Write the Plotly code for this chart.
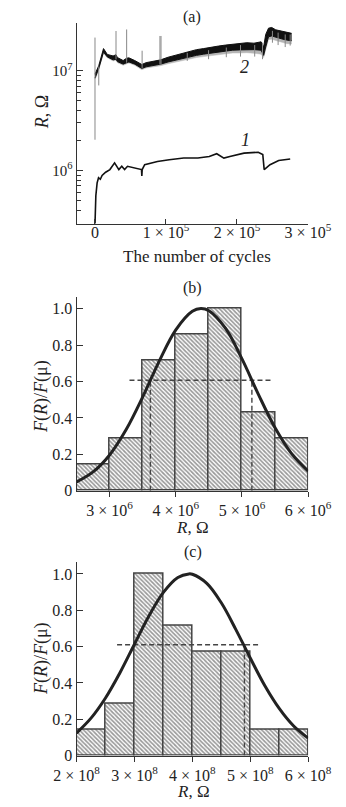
import plotly.graph_objects as go

# ---------------- data: panel (a) ----------------
# curve 2: band envelopes (cycles, Ohm)
c2_x = [0, 2e3, 5.3e3, 12e3, 17.4e3, 25.5e3, 29.6e3, 31.6e3, 39.7e3, 44.6e3, 47.8e3, 56e3, 66e3,
        72e3, 82e3, 92.5e3, 103e3, 113e3, 123e3, 133e3, 143e3, 153e3, 164e3, 174e3, 184e3, 194e3,
        204e3, 214e3, 224e3, 234e3, 237.6e3, 240.5e3, 244.5e3, 249e3, 254.6e3, 259e3, 264.8e3,
        270e3, 277e3]
c2_upper = [0.92e7, 1.0e7, 1.12e7, 1.66e7, 1.45e7, 1.40e7, 1.44e7, 1.35e7, 1.26e7, 1.33e7, 1.34e7,
            1.26e7, 1.15e7, 1.20e7, 1.24e7, 1.28e7, 1.36e7, 1.42e7, 1.50e7, 1.54e7, 1.62e7, 1.66e7,
            1.72e7, 1.76e7, 1.80e7, 1.84e7, 1.86e7, 1.90e7, 1.88e7, 1.94e7, 1.72e7, 2.3e7, 2.66e7,
            2.70e7, 2.56e7, 2.52e7, 2.45e7, 2.42e7, 2.36e7]
c2_lower = [0.84e7, 0.9e7, 1.05e7, 1.53e7, 1.37e7, 1.28e7, 1.30e7, 1.23e7, 1.16e7, 1.20e7, 1.22e7,
            1.16e7, 1.05e7, 1.09e7, 1.12e7, 1.16e7, 1.22e7, 1.27e7, 1.33e7, 1.37e7, 1.42e7, 1.46e7,
            1.50e7, 1.54e7, 1.57e7, 1.60e7, 1.61e7, 1.62e7, 1.62e7, 1.60e7, 1.42e7, 1.72e7, 2.18e7,
            2.22e7, 2.15e7, 2.12e7, 2.06e7, 2.02e7, 1.99e7]
c2_fringe = [0.82e7, 0.87e7, 1.02e7, 1.49e7, 1.34e7, 1.25e7, 1.27e7, 1.20e7, 1.13e7, 1.17e7, 1.19e7,
             1.13e7, 1.02e7, 1.06e7, 1.08e7, 1.12e7, 1.17e7, 1.21e7, 1.27e7, 1.30e7, 1.35e7, 1.38e7,
             1.41e7, 1.45e7, 1.47e7, 1.50e7, 1.50e7, 1.51e7, 1.49e7, 1.46e7, 1.35e7, 1.63e7, 2.05e7,
             2.06e7, 1.99e7, 1.96e7, 1.91e7, 1.86e7, 1.85e7]
# grey spikes of curve 2: position, low end, high end
spike_x = [0, 5.3e3, 29.6e3, 44.6e3, 66.4e3, 91.5e3, 93e3, 130e3, 160e3, 185e3, 205e3, 225e3,
           236e3, 250e3, 258e3, 268e3, 275e3]
spike_lo = [2.03e6, 7.1e6, 1.3e7, 1.2e7, 1.05e7, 1.15e7, 1.15e7, 1.25e7, 1.30e7, 1.36e7, 1.38e7,
            1.38e7, 1.30e7, 1.90e7, 1.80e7, 1.72e7, 1.78e7]
spike_hi = [2.14e7, 1.1e7, 2.49e7, 2.58e7, 1.58e7, 2.22e7, 2.22e7, 1.5e7, 1.6e7, 1.7e7, 1.8e7,
            1.8e7, 1.9e7, 2.5e7, 2.4e7, 2.3e7, 2.3e7]

# curve 1 (cycles, Ohm)
c1_x = [0, 500, 1.2e3, 3e3, 5e3, 7.5e3, 10e3, 15e3, 21e3, 27.6e3, 33.6e3, 37.7e3, 41.7e3, 45.8e3,
        56e3, 65.5e3, 66e3, 66.5e3, 70e3, 88e3, 104.6e3, 125e3, 145e3, 161e3, 171.5e3, 181.6e3,
        190e3, 210e3, 230e3, 236.4e3, 238.4e3, 246.6e3, 258.8e3, 275e3]
c1_y = [2.9e5, 4.5e5, 5.6e5, 7.5e5, 8.45e5, 8.15e5, 8.9e5, 9.6e5, 1.02e6, 1.19e6, 1.02e6, 1.1e6,
        1.02e6, 1.1e6, 1.06e6, 1.02e6, 8.8e5, 1.02e6, 1.14e6, 1.23e6, 1.28e6, 1.33e6, 1.33e6,
        1.38e6, 1.47e6, 1.33e6, 1.38e6, 1.49e6, 1.52e6, 1.44e6, 1.02e6, 1.14e6, 1.26e6, 1.3e6]

a_xticks = [0, 1e5, 2e5, 3e5]
a_xticktext = ["0", "1 × 10<sup>5</sup>", "2 × 10<sup>5</sup>", "3 × 10<sup>5</sup>"]
a_yticks = [1e6, 1e7]
a_yticktext = ["10<sup>6</sup>", "10<sup>7</sup>"]
a_yminor = [3e5, 4e5, 5e5, 6e5, 7e5, 8e5, 9e5, 2e6, 3e6, 4e6, 5e6, 6e6, 7e6, 8e6, 9e6]

# ---------------- data: panel (b) ----------------
b_edges = [2.5e6, 3.0e6, 3.5e6, 4.0e6, 4.5e6, 5.0e6, 5.5e6, 6.0e6]
b_heights = [0.143, 0.286, 0.714, 0.857, 1.0, 0.429, 0.286]
b_curve_x = [2.5e6, 2.75e6, 3.0e6, 3.25e6, 3.5e6, 3.75e6, 4.0e6, 4.25e6, 4.38e6, 4.5e6, 4.75e6,
             5.0e6, 5.25e6, 5.5e6, 5.75e6, 6.0e6]
b_curve_y = [0.049, 0.104, 0.197, 0.336, 0.515, 0.712, 0.883, 0.985, 1.0, 0.988, 0.892, 0.724,
             0.528, 0.346, 0.204, 0.108]
b_level = 0.6065
b_level_x = [3.3e6, 5.45e6]
b_sigma_x = [3.616e6, 5.15e6]
b_xticks = [3e6, 4e6, 5e6, 6e6]
b_xticktext = ["3 × 10<sup>6</sup>", "4 × 10<sup>6</sup>", "5 × 10<sup>6</sup>", "6 × 10<sup>6</sup>"]

# ---------------- data: panel (c) ----------------
c_edges = [2.0e8, 2.5e8, 3.0e8, 3.5e8, 4.0e8, 4.5e8, 5.0e8, 5.5e8, 6.0e8]
c_heights = [0.143, 0.286, 1.0, 0.714, 0.571, 0.571, 0.143, 0.143]
c_curve_x = [2.0e8, 2.25e8, 2.5e8, 2.75e8, 3.0e8, 3.25e8, 3.5e8, 3.75e8, 3.94e8, 4.0e8, 4.25e8,
             4.5e8, 4.75e8, 5.0e8, 5.25e8, 5.5e8, 5.75e8, 6.0e8]
c_curve_y = [0.124, 0.206, 0.317, 0.456, 0.613, 0.768, 0.898, 0.980, 1.0, 0.998, 0.948, 0.841,
             0.695, 0.537, 0.386, 0.260, 0.163, 0.096]
c_level = 0.61
c_level_x = [2.7e8, 5.17e8]
c_sigma_x = [4.9e8]
c_xticks = [2e8, 3e8, 4e8, 5e8, 6e8]
c_xticktext = ["2 × 10<sup>8</sup>", "3 × 10<sup>8</sup>", "4 × 10<sup>8</sup>",
               "5 × 10<sup>8</sup>", "6 × 10<sup>8</sup>"]

hist_yticks = [0, 0.2, 0.4, 0.6, 0.8, 1.0]
hist_yticktext = ["0", "0.2", "0.4", "0.6", "0.8", "1.0"]

# ---------------- figure ----------------
W, H = 346, 807
FONT = "Liberation Serif"
INK = "#222"


def fx(px):
    return px / W


def fy(py):
    return 1 - py / H


fig = go.Figure()

# panel (a)
fig.add_trace(go.Scatter(x=c2_x, y=c2_fringe, mode="lines", line=dict(color="#bbb", width=0.5),
                         xaxis="x", yaxis="y", hoverinfo="skip"))
fig.add_trace(go.Scatter(x=c2_x, y=c2_lower, mode="lines", line=dict(color="#bbb", width=0.5),
                         fill="tonexty", fillcolor="#b5b5b5", xaxis="x", yaxis="y", hoverinfo="skip"))
fig.add_trace(go.Scatter(x=c2_x, y=c2_lower, mode="lines", line=dict(color="#111", width=1),
                         xaxis="x", yaxis="y", hoverinfo="skip"))
fig.add_trace(go.Scatter(x=c2_x, y=c2_upper, mode="lines", line=dict(color="#111", width=1),
                         fill="tonexty", fillcolor="#111", xaxis="x", yaxis="y", hoverinfo="skip"))
sx, sy = [], []
for x0, lo, hi in zip(spike_x, spike_lo, spike_hi):
    sx += [x0, x0, None]
    sy += [lo, hi, None]
fig.add_trace(go.Scatter(x=sx, y=sy, mode="lines", line=dict(color="#888", width=1),
                         xaxis="x", yaxis="y", hoverinfo="skip"))
fig.add_trace(go.Scatter(x=c1_x, y=c1_y, mode="lines", line=dict(color="#111", width=1.6),
                         xaxis="x", yaxis="y", hoverinfo="skip"))


def add_hist(edges, heights, cx, cy, level, level_x, sigma_x, xa, ya):
    centers = [(a + b) / 2 for a, b in zip(edges[:-1], edges[1:])]
    widths = [b - a for a, b in zip(edges[:-1], edges[1:])]
    fig.add_trace(go.Bar(x=centers, y=heights, width=widths, xaxis=xa, yaxis=ya,
                         marker=dict(color="white",
                                     pattern=dict(shape="\\", fgcolor="#333", bgcolor="white",
                                                  size=3, solidity=0.55),
                                     line=dict(color="#444", width=1.5)),
                         hoverinfo="skip"))
    dx, dy = list(level_x), [level, level]
    for s in sigma_x:
        dx += [None, s, s]
        dy += [None, 0, level]
    fig.add_trace(go.Scatter(x=dx, y=dy, mode="lines", xaxis=xa, yaxis=ya,
                             line=dict(color="#444", width=1.4, dash="5px,3px"), hoverinfo="skip"))
    fig.add_trace(go.Scatter(x=cx, y=cy, mode="lines", line_shape="spline", xaxis=xa, yaxis=ya,
                             line=dict(color="#222", width=3), hoverinfo="skip"))


add_hist(b_edges, b_heights, b_curve_x, b_curve_y, b_level, b_level_x, b_sigma_x, "x2", "y2")
add_hist(c_edges, c_heights, c_curve_x, c_curve_y, c_level, c_level_x, c_sigma_x, "x3", "y3")

axis_common = dict(showline=True, linecolor="#333", linewidth=1, showgrid=False, zeroline=False,
                   tickcolor="#333", tickfont=dict(family=FONT, size=16, color=INK), mirror=False)

fig.update_layout(
    width=W, height=H, margin=dict(l=0, r=0, t=0, b=0),
    paper_bgcolor="white", plot_bgcolor="white", showlegend=False, bargap=0,
    font=dict(family=FONT, color=INK, size=16),
    xaxis=dict(axis_common, domain=[fx(52.7), fx(320.7)], anchor="y", range=[-26000, 300300],
               tickmode="array", tickvals=a_xticks, ticktext=a_xticktext, ticks="inside", ticklen=5,
               ticklabelstandoff=-6),
    yaxis=dict(axis_common, domain=[fy(218), fy(15)], anchor="x", type="log", range=[5.468, 7.478],
               tickmode="array", tickvals=a_yticks, ticktext=a_yticktext, ticks="inside", ticklen=6,
               tickfont=dict(family=FONT, size=15, color=INK),
               minor=dict(tickmode="array", tickvals=a_yminor, ticks="inside", ticklen=4,
                          tickcolor="#333", showgrid=False)),
    xaxis2=dict(axis_common, domain=[fx(52.7), fx(320.7)], anchor="y2", range=[2.5e6, 6.0e6],
                tickmode="array", tickvals=b_xticks, ticktext=b_xticktext, ticks="outside", ticklen=5),
    yaxis2=dict(axis_common, domain=[fy(488.3), fy(292.7)], anchor="x2", range=[0, 1.061],
                tickmode="array", tickvals=hist_yticks, ticktext=hist_yticktext, ticks="inside", ticklen=6),
    xaxis3=dict(axis_common, domain=[fx(52.7), fx(320.7)], anchor="y3", range=[2.0e8, 6.0e8],
                tickmode="array", tickvals=c_xticks, ticktext=c_xticktext, ticks="outside", ticklen=5),
    yaxis3=dict(axis_common, domain=[fy(756), fy(560)], anchor="x3", range=[0, 1.067],
                tickmode="array", tickvals=hist_yticks, ticktext=hist_yticktext, ticks="inside", ticklen=6),
)


def label(text, x, y, size=16, angle=0):
    fig.add_annotation(text=text, xref="paper", yref="paper", x=fx(x), y=fy(y), showarrow=False,
                       xanchor="center", yanchor="middle", textangle=angle,
                       font=dict(family=FONT, size=size, color=INK))


label("(a)", 186.7, 9)
label("(b)", 186.7, 283)
label("(c)", 188, 550)
label("The number of cycles", 191.7, 251.5, size=17)
label("<i>R</i>, Ω", 186.7, 525, size=17)
label("<i>R</i>, Ω", 188, 792, size=17)
label("<i>R</i>, Ω", 12, 105, size=18, angle=-90)
label("<i>F</i>(<i>R</i>)/<i>F</i>(μ)", 12, 393, size=18, angle=-90)
label("<i>F</i>(<i>R</i>)/<i>F</i>(μ)", 12, 658, size=18, angle=-90)
label("<i>2</i>", 247, 60, size=18)
label("<i>1</i>", 248, 133, size=18)

fig.write_html("out.html")
